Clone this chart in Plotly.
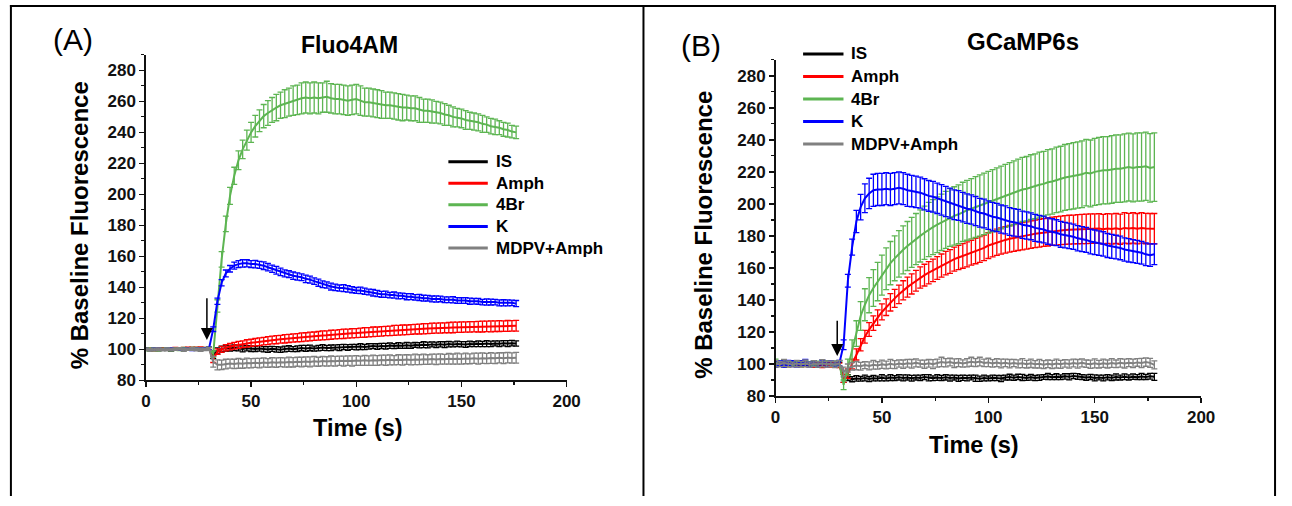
import plotly.graph_objects as go

W, H = 1292, 506

# ---------------- data ----------------
time_A = list(range(0, 177, 2))   # 0..176 s
time_B = list(range(0, 179, 2))   # 0..178 s

series_names = ["IS", "Amph", "4Br", "K", "MDPV+Amph"]
series_colors = ["#000000", "#FF0000", "#5DB552", "#0000FF", "#808080"]

# Panel A : Fluo4AM
A_IS = [100.2, 99.8, 100.1, 99.9, 100.3, 100.0, 99.7, 100.1, 100.2, 99.9, 100.0, 100.4, 100.1, 99.8, 100.2, 100.5,
        96.5, 99.0, 100.2, 100.8, 100.5, 101.0, 100.6, 100.3, 100.7, 100.4,
        100.2, 100.6, 100.1, 99.9, 100.3, 100.0, 99.8, 100.2, 100.5, 100.1,
        100.4, 100.8, 100.6, 100.9, 100.5, 100.8, 101.2, 100.9, 101.0, 101.3,
        101.1, 101.5, 101.2, 101.6, 101.4, 101.8, 101.5, 101.9, 102.1, 101.8,
        102.2, 102.0, 102.4, 102.1, 102.5, 102.3, 102.6, 102.4, 102.8, 102.6,
        103.0, 102.8, 103.2, 102.9, 103.3, 103.0, 103.4, 103.2, 103.5, 103.3,
        103.1, 103.5, 103.3, 103.6, 103.4, 103.7, 103.5, 103.8, 103.6, 103.9,
        103.7, 104.0, 103.8]
A_IS_err = [0.8, 0.7, 0.9, 0.8, 0.7, 0.8, 0.9, 0.7, 0.8, 0.8, 0.7, 0.9, 0.8, 0.7, 0.8, 0.9,
            2.5, 2.0, 1.8, 1.9, 1.7, 1.8, 1.6, 1.9, 1.7, 1.8,
            1.6, 1.8, 1.7, 1.9, 1.6, 1.8, 1.7, 1.9, 1.8, 1.6,
            1.8, 1.7, 1.9, 1.8, 1.6, 1.8, 1.9, 1.7, 1.8, 1.6,
            1.9, 1.7, 1.8, 1.6, 1.8, 1.9, 1.7, 1.8, 1.6, 1.8,
            1.7, 1.9, 1.8, 1.6, 1.8, 1.7, 1.9, 1.8, 1.6, 1.7,
            1.9, 1.8, 1.6, 1.8, 1.7, 1.9, 1.8, 1.6, 1.8, 1.7,
            1.9, 1.8, 1.6, 1.8, 1.7, 1.9, 1.8, 1.6, 1.8, 1.7,
            1.9, 1.8, 1.7]

A_Amph = [100.1, 100.3, 99.9, 100.2, 100.4, 100.0, 100.3, 100.6, 100.2, 100.5, 100.8, 100.4, 100.7, 100.9, 100.6, 100.8,
          93.5, 98.5, 100.0, 101.0, 101.8, 102.3, 102.9, 103.3, 103.8, 104.2,
          104.6, 104.9, 105.3, 105.6, 106.0, 106.2, 106.5, 106.8, 107.0, 107.3,
          107.5, 107.8, 108.0, 108.3, 108.5, 108.7, 109.0, 109.1, 109.4, 109.6,
          109.8, 110.0, 110.1, 110.4, 110.5, 110.7, 110.9, 111.0, 111.3, 111.4,
          111.6, 111.8, 111.9, 112.2, 112.3, 112.5, 112.6, 112.8, 113.0, 113.1,
          113.3, 113.4, 113.6, 113.7, 113.8, 113.9, 114.0, 114.1, 114.2, 114.3,
          114.4, 114.5, 114.6, 114.6, 114.7, 114.8, 114.8, 114.9, 115.0, 115.0,
          115.1, 115.1, 115.2]
A_Amph_err = [0.7, 0.6, 0.8, 0.7, 0.6, 0.7, 0.8, 0.6, 0.7, 0.7, 0.6, 0.8, 0.7, 0.6, 0.7, 0.8,
              2.0, 1.8, 1.9, 2.0, 2.1, 2.2, 2.3, 2.2, 2.4, 2.3,
              2.4, 2.5, 2.4, 2.6, 2.5, 2.6, 2.5, 2.7, 2.6, 2.7,
              2.6, 2.8, 2.7, 2.8, 2.7, 2.8, 2.9, 2.8, 2.9, 2.8,
              2.9, 3.0, 2.9, 3.0, 2.9, 3.0, 3.1, 3.0, 3.1, 3.0,
              3.1, 3.0, 3.1, 3.2, 3.1, 3.2, 3.1, 3.2, 3.1, 3.2,
              3.3, 3.2, 3.3, 3.2, 3.3, 3.2, 3.3, 3.4, 3.3, 3.4,
              3.3, 3.4, 3.3, 3.4, 3.5, 3.4, 3.5, 3.4, 3.5, 3.4,
              3.5, 3.4, 3.5]

A_4Br = [99.9, 100.2, 100.0, 99.8, 100.1, 100.3, 99.9, 100.2, 100.0, 100.4, 100.1, 100.3, 100.5, 100.2, 100.4, 100.6,
         97.0, 128.0, 158.0, 181.0, 199.0, 212.0, 222.0, 229.0, 235.0, 240.0,
         244.0, 247.5, 250.5, 252.5, 254.5, 256.0, 257.5, 258.5, 259.5, 260.5,
         261.0, 262.0, 262.5, 262.0, 262.5, 262.0, 262.5, 263.0, 262.0, 261.5,
         261.5, 261.0, 260.5, 261.0, 261.5, 260.5, 259.5, 259.5, 259.0, 258.5,
         258.0, 257.5, 257.5, 257.0, 256.5, 256.0, 256.0, 255.5, 255.5, 254.5,
         254.0, 254.0, 253.5, 253.0, 252.5, 251.5, 251.0, 250.0, 249.5, 249.0,
         248.0, 247.5, 247.0, 246.5, 245.5, 245.0, 244.0, 243.5, 243.0, 242.0,
         241.5, 240.5, 240.0]
A_4Br_err = [0.8, 0.7, 0.9, 0.8, 0.7, 0.8, 0.9, 0.7, 0.8, 0.8, 0.7, 0.9, 0.8, 0.7, 0.8, 0.9,
             2.0, 4.0, 5.0, 5.0, 5.5, 5.5, 6.0, 6.0, 6.5, 6.5,
             7.0, 7.0, 7.5, 8.0, 8.0, 8.5, 8.5, 9.0, 9.0, 9.5,
             9.5, 10.0, 10.0, 10.0, 10.0, 10.0, 9.5, 10.0, 9.5, 9.5,
             9.5, 9.5, 9.5, 9.5, 9.5, 9.5, 9.0, 9.0, 9.0, 9.0,
             9.0, 8.5, 8.5, 8.5, 8.5, 8.5, 8.0, 8.0, 8.0, 8.0,
             7.5, 7.5, 7.5, 7.0, 7.0, 7.0, 6.5, 6.5, 6.0, 6.0,
             6.0, 5.5, 5.5, 5.5, 5.5, 5.0, 5.0, 5.0, 4.5, 4.5,
             4.5, 4.0, 4.0]

A_K = [100.0, 99.8, 100.1, 100.2, 99.9, 100.0, 100.3, 99.8, 100.1, 100.0, 100.2, 99.9, 100.1, 100.3, 100.4, 100.5,
       113.0, 131.0, 143.0, 149.0, 152.0, 154.0, 155.0, 155.5, 155.5, 155.0,
       155.0, 154.5, 154.0, 153.0, 152.0, 151.0, 150.0, 149.0, 148.5, 147.5,
       147.0, 146.5, 145.5, 145.0, 144.0, 143.0, 142.0, 141.5, 140.5, 140.0,
       139.5, 139.5, 139.0, 138.5, 138.0, 138.0, 137.5, 137.0, 136.5, 136.0,
       135.5, 135.5, 135.0, 135.0, 134.5, 134.5, 134.0, 134.0, 133.5, 133.5,
       133.0, 133.0, 132.5, 132.5, 132.5, 132.0, 132.0, 132.0, 131.5, 131.5,
       131.5, 131.0, 131.0, 131.0, 130.5, 130.5, 130.5, 130.5, 130.0, 130.0,
       130.0, 130.0, 129.5]
A_K_err = [0.6, 0.5, 0.7, 0.6, 0.5, 0.6, 0.7, 0.5, 0.6, 0.6, 0.5, 0.7, 0.6, 0.5, 0.6, 0.7,
           1.5, 2.0, 2.0, 2.2, 2.1, 2.3, 2.2, 2.4, 2.3, 2.2,
           2.4, 2.3, 2.5, 2.4, 2.3, 2.5, 2.4, 2.3, 2.2, 2.4,
           2.3, 2.2, 2.4, 2.3, 2.1, 2.3, 2.2, 2.0, 2.2, 2.1,
           2.0, 2.2, 2.1, 2.0, 1.9, 2.1, 2.0, 1.9, 2.1, 2.0,
           1.9, 2.0, 1.8, 2.0, 1.9, 1.8, 2.0, 1.9, 1.8, 2.0,
           1.9, 1.8, 1.9, 2.0, 1.8, 1.9, 1.8, 2.0, 1.9, 1.8,
           1.9, 2.0, 1.8, 1.9, 1.8, 2.0, 1.9, 1.8, 1.9, 2.0,
           1.9, 1.8, 2.0]

A_MDPV = [100.0, 99.7, 99.9, 100.2, 99.8, 100.1, 99.9, 100.0, 100.3, 99.8, 100.1, 100.2, 99.9, 100.1, 100.0, 100.3,
          92.0, 90.0, 90.0, 90.5, 90.8, 90.6, 91.0, 90.7, 91.2, 91.0,
          91.3, 91.1, 91.5, 91.2, 91.6, 91.4, 91.7, 91.5, 91.8, 91.6,
          92.0, 91.8, 92.1, 91.9, 92.3, 92.0, 92.4, 92.2, 92.5, 92.3,
          92.6, 92.4, 92.7, 92.5, 92.8, 92.6, 92.9, 92.7, 93.0, 92.8,
          93.1, 92.9, 93.2, 93.0, 93.3, 93.1, 93.4, 93.2, 93.5, 93.3,
          93.6, 93.4, 93.7, 93.5, 93.8, 93.6, 93.9, 93.7, 94.0, 93.8,
          94.1, 93.9, 94.2, 94.0, 94.3, 94.1, 94.4, 94.2, 94.5, 94.3,
          94.6, 94.4, 94.6]
A_MDPV_err = [0.8, 0.7, 0.9, 0.8, 0.7, 0.8, 0.9, 0.7, 0.8, 0.8, 0.7, 0.9, 0.8, 0.7, 0.8, 0.9,
              3.5, 3.2, 3.0, 3.1, 2.9, 3.0, 3.2, 2.9, 3.1, 3.0,
              2.9, 3.1, 3.0, 2.8, 3.0, 3.1, 2.9, 3.0, 3.2, 3.0,
              2.9, 3.1, 3.0, 3.2, 3.1, 2.9, 3.1, 3.0, 3.2, 3.1,
              3.0, 3.2, 3.1, 3.3, 3.1, 3.0, 3.2, 3.1, 3.3, 3.2,
              3.1, 3.3, 3.2, 3.0, 3.2, 3.3, 3.1, 3.2, 3.4, 3.2,
              3.3, 3.1, 3.2, 3.4, 3.3, 3.2, 3.4, 3.3, 3.5, 3.3,
              3.4, 3.2, 3.3, 3.5, 3.4, 3.3, 3.5, 3.4, 3.3, 3.5,
              3.4, 3.3, 3.5]

# Panel B : GCaMP6s
B_IS = [100.5, 99.8, 100.2, 99.6, 100.4, 100.1, 99.7, 100.3, 99.9, 100.2, 99.5, 100.0, 99.8, 100.1, 99.6, 99.9,
        91.0, 91.5, 90.5, 91.0, 90.8, 91.3, 90.6, 91.1, 90.9, 91.4,
        91.0, 91.5, 91.2, 91.7, 91.3, 91.6, 91.1, 91.5, 91.3, 91.8,
        91.4, 91.1, 91.6, 91.3, 91.7, 91.2, 91.5, 91.0, 91.4, 91.2,
        91.6, 91.1, 90.8, 91.3, 91.0, 91.4, 91.2, 90.9, 91.5, 91.8,
        91.4, 91.9, 91.6, 91.3, 91.7, 91.2, 91.5, 91.9, 92.2, 91.8,
        92.1, 91.7, 92.3, 92.0, 92.5, 92.2, 91.8, 91.5, 91.9, 91.3,
        91.6, 91.2, 91.7, 91.4, 91.9, 91.5, 92.0, 91.6, 92.1, 91.8,
        92.2, 91.9, 92.3, 92.0]
B_IS_err = [1.2, 1.0, 1.3, 1.1, 1.4, 1.2, 1.0, 1.3, 1.1, 1.2, 1.4, 1.0, 1.2, 1.3, 1.1, 1.2,
            2.5, 1.8, 1.6, 1.7, 1.5, 1.8, 1.6, 1.7, 1.5, 1.9,
            1.6, 1.8, 1.5, 1.7, 1.9, 1.6, 1.8, 1.5, 1.7, 1.6,
            1.9, 1.5, 1.8, 1.6, 1.7, 1.9, 1.5, 1.8, 1.6, 1.7,
            1.5, 1.9, 1.6, 1.8, 1.5, 1.7, 1.6, 1.9, 1.5, 1.8,
            1.6, 1.7, 1.9, 1.5, 1.8, 1.6, 1.7, 1.5, 1.9, 1.6,
            1.8, 1.5, 1.7, 1.9, 1.6, 1.8, 1.5, 1.7, 1.6, 1.9,
            1.5, 1.8, 1.6, 1.7, 1.9, 1.5, 1.8, 1.6, 1.7, 1.5,
            1.9, 1.6, 1.8, 2.2]

B_Amph = [100.3, 99.9, 100.1, 99.6, 100.2, 99.8, 99.5, 100.0, 99.7, 99.4, 99.8, 99.3, 99.6, 99.2, 99.5, 99.1,
          91.0, 94.0, 100.0, 106.0, 112.0, 117.0, 121.5, 125.5, 129.0, 132.5,
          135.5, 138.5, 141.0, 143.5, 146.0, 148.0, 150.0, 152.0, 154.0, 155.5,
          157.0, 158.5, 160.0, 161.5, 163.0, 164.0, 165.5, 166.5, 167.5, 168.5,
          169.5, 170.5, 171.5, 172.5, 174.0, 175.0, 176.0, 176.8, 177.5, 178.2,
          178.8, 179.3, 179.8, 180.3, 180.8, 181.3, 181.7, 182.1, 182.5, 182.9,
          183.2, 183.5, 183.7, 183.9, 184.0, 184.2, 184.3, 184.4, 184.5, 184.5,
          184.6, 184.2, 184.6, 184.3, 184.7, 184.2, 185.0, 184.6, 185.0, 184.5,
          185.0, 184.6, 184.5, 184.5]
B_Amph_err = [1.5, 1.3, 1.6, 1.4, 1.2, 1.5, 1.3, 1.6, 1.4, 1.5, 1.3, 1.6, 1.4, 1.2, 1.5, 1.4,
              2.5, 3.0, 3.0, 3.5, 3.8, 4.0, 4.3, 4.5, 4.8, 5.0,
              5.2, 5.4, 5.6, 5.8, 6.0, 6.2, 6.3, 6.5, 6.6, 6.8,
              6.9, 7.0, 7.1, 7.2, 7.3, 7.4, 7.5, 7.6, 7.7, 7.8,
              7.8, 7.9, 8.0, 8.0, 8.1, 8.1, 8.2, 8.2, 8.3, 8.3,
              8.4, 8.4, 8.5, 8.5, 8.6, 8.6, 8.7, 8.7, 8.8, 8.8,
              8.9, 8.9, 9.0, 9.0, 9.0, 9.1, 9.1, 9.2, 9.2, 9.2,
              9.3, 9.3, 9.3, 9.4, 9.4, 9.4, 9.5, 9.5, 9.5, 9.5,
              9.5, 9.5, 9.5, 9.5]

B_4Br = [101.0, 100.2, 100.5, 99.8, 100.3, 100.0, 99.7, 100.2, 99.9, 100.4, 100.1, 99.8, 100.3, 100.0, 100.5, 100.2,
         87.0, 98.0, 108.0, 119.0, 130.0, 137.0, 143.0, 147.5, 151.5, 155.5,
         159.5, 163.0, 166.0, 168.8, 171.3, 173.7, 176.0, 178.0, 180.0, 182.0,
         184.0, 185.5, 187.0, 188.5, 190.0, 191.5, 192.5, 193.5, 195.0, 196.0,
         197.0, 198.0, 199.0, 200.0, 201.0, 202.0, 203.0, 204.0, 205.0, 206.0,
         207.0, 208.0, 209.0, 209.5, 210.5, 211.0, 212.0, 212.5, 213.5, 214.0,
         215.0, 215.5, 216.5, 217.0, 217.5, 218.0, 218.5, 219.5, 219.0, 220.0,
         220.5, 221.0, 221.0, 221.5, 222.0, 222.0, 222.5, 223.0, 222.5, 223.0,
         223.0, 223.5, 222.5, 223.0]
B_4Br_err = [2.0, 1.5, 1.8, 1.6, 1.4, 1.7, 1.5, 1.8, 1.6, 1.4, 1.7, 1.5, 1.8, 1.6, 1.5, 1.7,
             3.0, 5.0, 7.0, 8.0, 9.0, 10.0, 11.0, 11.5, 12.0, 12.5,
             13.0, 13.5, 14.0, 14.5, 15.0, 15.3, 15.6, 16.0, 16.3, 16.6,
             16.9, 17.2, 17.4, 17.6, 17.8, 18.0, 18.2, 18.4, 18.5, 18.7,
             18.8, 19.0, 19.1, 19.2, 19.3, 19.4, 19.5, 19.6, 19.7, 19.8,
             19.9, 20.0, 20.0, 20.1, 20.2, 20.2, 20.3, 20.3, 20.4, 20.4,
             20.5, 20.5, 20.6, 20.6, 20.7, 20.7, 20.8, 20.8, 20.9, 20.9,
             21.0, 21.0, 21.0, 21.1, 21.1, 21.1, 21.2, 21.2, 21.2, 21.3,
             21.3, 21.3, 21.4, 21.4]

B_K = [99.8, 100.5, 99.9, 100.7, 100.2, 99.6, 100.4, 100.8, 99.7, 100.3, 99.9, 100.6, 99.8, 100.2, 99.9, 100.4,
       112.0, 152.0, 173.0, 189.0, 198.0, 203.5, 206.5, 208.5, 209.0, 209.0,
       209.5, 209.0, 209.5, 210.0, 209.5, 208.5, 208.0, 207.5, 207.0, 206.0,
       205.0, 204.5, 203.5, 202.5, 201.5, 200.5, 199.5, 199.0, 198.0, 197.0,
       196.5, 195.5, 194.5, 194.0, 193.0, 192.0, 191.5, 190.5, 190.0, 189.0,
       188.5, 188.0, 187.0, 186.5, 186.0, 185.0, 184.5, 184.0, 183.0, 182.5,
       182.0, 181.0, 180.5, 180.0, 179.5, 178.5, 178.0, 177.5, 176.5, 176.0,
       175.5, 175.0, 174.0, 173.5, 173.0, 172.5, 171.5, 171.0, 170.5, 170.0,
       169.5, 168.5, 168.0, 168.5]
B_K_err = [1.8, 1.5, 2.0, 1.6, 1.9, 1.4, 1.7, 2.0, 1.5, 1.8, 1.6, 1.9, 1.5, 1.7, 1.6, 1.8,
           3.0, 4.0, 5.0, 7.0, 8.0, 9.0, 9.5, 10.0, 10.0, 10.0,
           10.0, 10.0, 10.0, 10.0, 10.0, 10.0, 9.8, 9.8, 9.7, 9.7,
           9.6, 9.6, 9.5, 9.5, 9.4, 9.4, 9.3, 9.3, 9.2, 9.2,
           9.1, 9.1, 9.0, 9.0, 8.9, 8.9, 8.8, 8.8, 8.7, 8.7,
           8.6, 8.6, 8.5, 8.5, 8.4, 8.4, 8.3, 8.3, 8.2, 8.2,
           8.1, 8.1, 8.0, 8.0, 7.9, 7.9, 7.8, 7.8, 7.7, 7.7,
           7.6, 7.6, 7.5, 7.5, 7.4, 7.4, 7.3, 7.3, 7.2, 7.2,
           7.1, 7.1, 7.0, 6.5]

B_MDPV = [100.2, 99.8, 100.6, 100.1, 99.7, 100.3, 99.9, 100.4, 99.6, 100.2, 99.8, 100.5, 99.9, 100.1, 99.7, 100.3,
          95.0, 97.5, 98.5, 99.0, 98.6, 99.3, 98.8, 99.5, 99.1, 99.8,
          99.4, 100.1, 99.6, 100.3, 99.9, 100.5, 100.1, 100.7, 100.2, 99.8,
          100.4, 99.9, 100.6, 101.3, 100.8, 101.2, 100.5, 100.9, 100.3, 100.8,
          101.4, 100.9, 101.5, 100.7, 101.0, 100.4, 100.9, 100.3, 100.7, 100.2,
          100.6, 100.1, 100.5, 99.9, 100.4, 99.8, 100.2, 99.6, 100.1, 99.7,
          100.3, 99.8, 100.4, 100.0, 100.6, 100.1, 100.7, 100.2, 99.8, 100.4,
          99.9, 100.5, 100.0, 100.6, 100.1, 100.7, 100.3, 100.8, 100.4, 101.0,
          100.6, 101.2, 100.7, 99.5]
B_MDPV_err = [2.0, 1.6, 2.2, 1.8, 1.5, 2.0, 1.7, 2.1, 1.6, 1.9, 1.7, 2.2, 1.8, 1.6, 2.0, 1.9,
              3.0, 2.5, 2.3, 2.6, 2.4, 2.2, 2.5, 2.7, 2.3, 2.6,
              2.4, 2.8, 2.5, 2.3, 2.6, 2.4, 2.7, 2.5, 2.2, 2.6,
              2.4, 2.8, 2.5, 2.9, 2.6, 2.4, 2.7, 2.5, 2.3, 2.6,
              2.8, 2.5, 2.7, 2.4, 2.6, 2.3, 2.5, 2.7, 2.4, 2.6,
              2.3, 2.5, 2.8, 2.4, 2.6, 2.3, 2.7, 2.5, 2.4, 2.6,
              2.8, 2.5, 2.3, 2.6, 2.4, 2.7, 2.5, 2.3, 2.6, 2.8,
              2.4, 2.6, 2.5, 2.7, 2.4, 2.6, 2.8, 2.5, 2.7, 2.4,
              2.9, 2.6, 2.8, 2.5]

panel_A_means = [A_IS, A_Amph, A_4Br, A_K, A_MDPV]
panel_A_errs = [A_IS_err, A_Amph_err, A_4Br_err, A_K_err, A_MDPV_err]
panel_B_means = [B_IS, B_Amph, B_4Br, B_K, B_MDPV]
panel_B_errs = [B_IS_err, B_Amph_err, B_4Br_err, B_K_err, B_MDPV_err]

panel_titles = ["Fluo4AM", "GCaMP6s"]
panel_letters = ["(A)", "(B)"]
x_title = "Time (s)"
y_title = "% Baseline Fluorescence"
arrow_time = [29, 29]
arrow_top = [134, 128]
arrow_tip = [106, 105]

# ---------------- figure ----------------
FONT = "Liberation Sans, Arial, sans-serif"


def px(x):
    return x / W


def py(y):
    return 1 - y / H


fig = go.Figure()

for means, errs, t, xa, ya in [(panel_A_means, panel_A_errs, time_A, "x", "y"),
                               (panel_B_means, panel_B_errs, time_B, "x2", "y2")]:
    for name, color, m, e in zip(series_names, series_colors, means, errs):
        fig.add_trace(go.Scatter(
            x=t, y=m, mode="lines", name=name, showlegend=False,
            line=dict(color=color, width=2),
            error_y=dict(type="data", array=e, visible=True, color=color,
                         thickness=1.3, width=3),
            xaxis=xa, yaxis=ya))

axis_common = dict(
    showgrid=False, zeroline=False, showline=True, linecolor="#111111", linewidth=1.5,
    ticks="outside", ticklen=5, tickwidth=1.5, tickcolor="#111111",
    tickfont=dict(family=FONT, size=17, color="#111111", weight="bold"),
    mirror=False,
)

fig.update_layout(
    width=W, height=H, margin=dict(l=0, r=0, t=0, b=0),
    paper_bgcolor="white", plot_bgcolor="white",
    showlegend=False,
    xaxis=dict(domain=[px(143), px(570)], range=[0, 200], dtick=50, tick0=0,
               minor=dict(ticks="outside", ticklen=3, dtick=25, tickwidth=1.2, tickcolor="#111111"),
               anchor="y", **axis_common),
    yaxis=dict(domain=[py(388), py(56)], range=[80, 290], dtick=20, tick0=80,
               minor=dict(ticks="outside", ticklen=3, dtick=10, tickwidth=1.2, tickcolor="#111111"),
               anchor="x", **axis_common),
    xaxis2=dict(domain=[px(782), px(1214)], range=[0, 200], dtick=50, tick0=0,
                minor=dict(ticks="outside", ticklen=3, dtick=25, tickwidth=1.2, tickcolor="#111111"),
                anchor="y2", **axis_common),
    yaxis2=dict(domain=[py(404), py(61)], range=[80, 290], dtick=20, tick0=80,
                minor=dict(ticks="outside", ticklen=3, dtick=10, tickwidth=1.2, tickcolor="#111111"),
                anchor="x2", **axis_common),
)

shapes = []
# outer frame and divider (open at the bottom, as in the reference)
frame_lines = [((5, 6), (1289, 6)), ((6, 5), (6, 506)), ((648, 6), (648, 506)), ((1289, 5), (1289, 506))]
for (x0, y0), (x1, y1) in frame_lines:
    shapes.append(dict(type="line", xref="paper", yref="paper", x0=px(x0), y0=py(y0), x1=px(x1), y1=py(y1),
                       line=dict(color="black", width=2)))

annotations = []
# legends
legend_specs = [dict(x0=450, x1=490, tx=496, rows=[165, 187, 209, 231, 253]),
                dict(x0=810, x1=851, tx=857, rows=[55, 78, 101, 124, 147])]
for spec in legend_specs:
    for name, color, yy in zip(series_names, series_colors, spec["rows"]):
        shapes.append(dict(type="line", xref="paper", yref="paper", x0=px(spec["x0"]), x1=px(spec["x1"]),
                           y0=py(yy), y1=py(yy), line=dict(color=color, width=3)))
        annotations.append(dict(xref="paper", yref="paper", x=px(spec["tx"]), y=py(yy), text=name,
                                showarrow=False, xanchor="left", yanchor="middle",
                                font=dict(family=FONT, size=17, color="black", weight="bold")))

# panel letters and titles
for txt, (cx, cy) in zip(panel_letters, [(69, 40), (706, 46)]):
    annotations.append(dict(xref="paper", yref="paper", x=px(cx), y=py(cy), text=txt, showarrow=False,
                            xanchor="center", yanchor="middle", font=dict(family=FONT, size=30, color="black")))
for txt, (cx, cy), fs in zip(panel_titles, [(350, 46), (1033, 42)], [23, 24]):
    annotations.append(dict(xref="paper", yref="paper", x=px(cx), y=py(cy), text=txt, showarrow=False,
                            xanchor="center", yanchor="middle",
                            font=dict(family=FONT, size=fs, color="black", weight="bold")))
# axis titles
for (cx, cy) in [(358, 437), (983, 454)]:
    annotations.append(dict(xref="paper", yref="paper", x=px(cx), y=py(cy), text=x_title, showarrow=False,
                            xanchor="center", yanchor="middle",
                            font=dict(family=FONT, size=23.5, color="black", weight="bold")))
for (cx, cy) in [(76, 230), (709, 240)]:
    annotations.append(dict(xref="paper", yref="paper", x=px(cx), y=py(cy), text=y_title, showarrow=False,
                            textangle=-90, xanchor="center", yanchor="middle",
                            font=dict(family=FONT, size=24, color="black", weight="bold")))
# stimulus arrows
for xa, ya, t, top, tip in [("x", "y", arrow_time[0], arrow_top[0], arrow_tip[0]),
                            ("x2", "y2", arrow_time[1], arrow_top[1], arrow_tip[1])]:
    annotations.append(dict(xref=xa, yref=ya, x=t, y=tip, ax=t, ay=top, axref=xa, ayref=ya, text="",
                            showarrow=True, arrowhead=2, arrowsize=1.6, arrowwidth=1.5, arrowcolor="black"))

fig.update_layout(shapes=shapes, annotations=annotations)

fig.write_html("out.html", config={"staticPlot": True, "displayModeBar": False})
